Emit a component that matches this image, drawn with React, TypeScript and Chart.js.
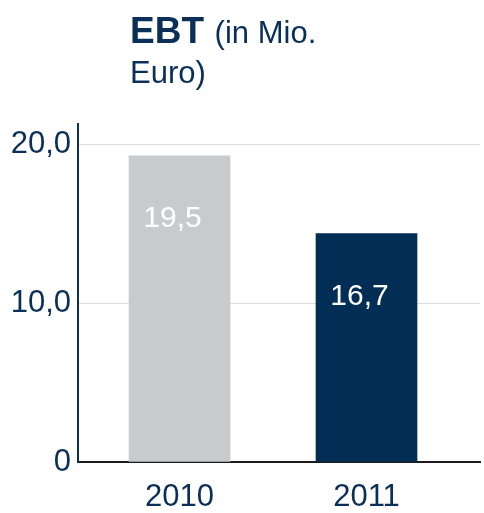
import React, { useEffect, useRef } from "react";
import { Chart, registerables } from "chart.js";

Chart.register(...registerables);

const categories = ["2010", "2011"];
const barValues = [19.3, 14.4];
const barLabels = ["19,5", "16,7"];
const yTickValues = [0, 10, 20];
const yTickLabels = ["0", "10,0", "20,0"];
const titleBold = "EBT";
const titleRest = " (in Mio.";
const titleLine2 = "Euro)";

const NAVY = "#0a2f58";
const BAR_NAVY = "#022d55";
const BAR_GRAY = "#c7cbce";
const FONT = "'Liberation Sans', Arial, Helvetica, sans-serif";

export default function App() {
  const ref = useRef<HTMLCanvasElement | null>(null);

  useEffect(() => {
    if (!ref.current) return;
    const titlePlugin = {
      id: "titlePlugin",
      afterDraw(chart: any) {
        const ctx = chart.ctx;
        ctx.save();
        ctx.fillStyle = NAVY;
        ctx.textBaseline = "alphabetic";
        ctx.textAlign = "left";
        ctx.font = `bold 37px ${FONT}`;
        ctx.fillText(titleBold, 130, 43);
        const w = ctx.measureText(titleBold).width;
        ctx.font = `31px ${FONT}`;
        ctx.fillText(titleRest, 130 + w + 2, 43);
        ctx.fillText(titleLine2, 130, 83);
        ctx.restore();
      },
    };
    const labelPlugin = {
      id: "barLabels",
      afterDatasetsDraw(chart: any) {
        const ctx = chart.ctx;
        const meta = chart.getDatasetMeta(0);
        ctx.save();
        ctx.fillStyle = "#ffffff";
        ctx.font = `30px ${FONT}`;
        ctx.textAlign = "center";
        ctx.textBaseline = "middle";
        meta.data.forEach((bar: any, i: number) => {
          ctx.fillText(barLabels[i], bar.x - 7, bar.y + 63);
        });
        ctx.restore();
      },
    };
    const chart = new Chart(ref.current, {
      type: "bar",
      data: {
        datasets: [
          {
            data: categories.map((_, i) => ({ x: i, y: barValues[i] })),
            backgroundColor: [BAR_GRAY, BAR_NAVY],
            barThickness: 101,
            borderWidth: 0,
          },
        ],
      },
      options: {
        animation: false,
        responsive: false,
        maintainAspectRatio: false,
        layout: { padding: { top: 124, right: 4, left: 0, bottom: 0 } },
        plugins: {
          legend: { display: false },
          tooltip: { enabled: false },
          title: { display: false },
        },
        scales: {
          x: {
            type: "linear",
            offset: false,
            min: -0.543,
            max: 1.607,
            grid: { display: false, drawTicks: false, offset: false },
            border: { display: true, color: "#1a1a1a", width: 2 },
            afterBuildTicks: (scale: any) => {
              scale.ticks = categories.map((_, i) => ({ value: i }));
            },
            afterFit: (scale: any) => {
              scale.height = 51;
            },
            ticks: {
              padding: 17,
              color: NAVY,
              font: { family: FONT, size: 31 },
              maxRotation: 0,
              autoSkip: false,
              callback: (v: any) => categories[Math.round(Number(v))] ?? "",
            },
          },
          y: {
            min: 0,
            max: 21.3,
            grid: { color: "#dcdcdc", lineWidth: 1, drawTicks: false },
            border: { display: true, color: NAVY, width: 2 },
            afterBuildTicks: (scale: any) => {
              scale.ticks = yTickValues.map((v) => ({ value: v }));
            },
            afterFit: (scale: any) => {
              scale.width = 78;
            },
            ticks: {
              padding: 7,
              color: NAVY,
              font: { family: FONT, size: 31 },
              callback: (v: any) => {
                const idx = yTickValues.indexOf(Number(v));
                return idx >= 0 ? yTickLabels[idx] : "";
              },
            },
          },
        },
      },
      plugins: [titlePlugin, labelPlugin],
    } as any);
    return () => chart.destroy();
  }, []);

  return (
    <div style={{ position: "fixed", left: 0, top: 0, width: 484, height: 513, background: "#fff" }}>
      <canvas ref={ref} width={484} height={513} style={{ width: 484, height: 513, display: "block" }} />
    </div>
  );
}
